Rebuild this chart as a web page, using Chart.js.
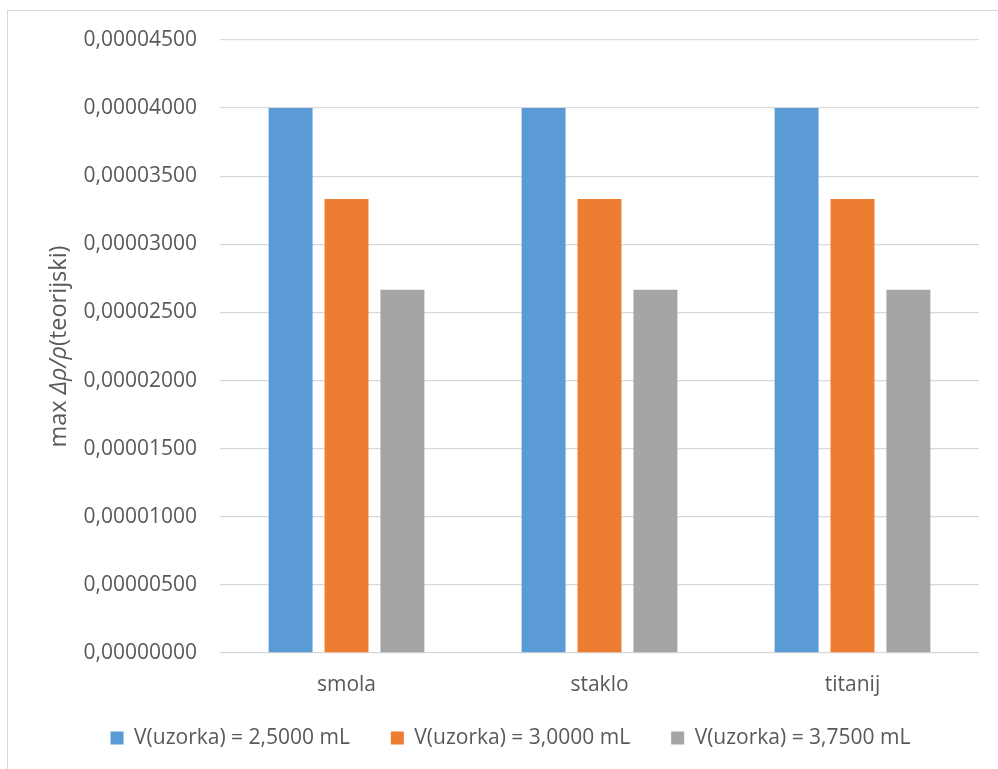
<!DOCTYPE html>
<html>
<head>
<meta charset="utf-8">
<script src="https://cdn.jsdelivr.net/npm/chart.js@4.4.1/dist/chart.umd.min.js"></script>
<style>
  html, body { margin: 0; padding: 0; background: #fff; }
  #wrap { position: relative; width: 998px; height: 769px; }
</style>
</head>
<body>
<div id="wrap"><canvas id="myChart"></canvas></div>
<script>
// kategorije i serije
var categories = ['smola', 'staklo', 'titanij'];
var seriesNames = ['V(uzorka) = 2,5000 mL', 'V(uzorka) = 3,0000 mL', 'V(uzorka) = 3,7500 mL'];
var values1 = [0.00004000, 0.00004000, 0.00004000];
var values2 = [0.00003333, 0.00003333, 0.00003333];
var values3 = [0.00002667, 0.00002667, 0.00002667];
var seriesColors = ['#5B9BD5', '#ED7D31', '#A5A5A5'];

// os y
var yMin = 0;
var yMax = 0.000045;
var yStep = 0.000005;
var yTitleParts = [['max ', false], ['Δρ/ρ', true], ['(teorijski)', false]];

var textColor = '#595959';
var gridColor = '#D9D9D9';
var fontName = "'Open Sans', 'Noto Sans', sans-serif";

Chart.defaults.font.family = fontName;
Chart.defaults.font.size = 21;
Chart.defaults.color = textColor;

// okvir, naslov osi y (dio teksta u kurzivu) i pomak legende
var framePlugin = {
    id: 'framePlugin',
    afterLayout: function(chart) {
        var lg = chart.legend;
        if (!lg) return;
        var shift = lg.top - (738 - 41 - 10.5);
        lg.top -= shift;
        lg.bottom -= shift;
    },
    beforeDraw: function(chart) {
        var ctx = chart.ctx;
        ctx.save();
        ctx.fillStyle = '#fff';
        ctx.fillRect(0, 0, chart.width, chart.height);
        ctx.strokeStyle = gridColor;
        ctx.lineWidth = 1;
        ctx.strokeRect(7.5, 10.5, chart.width + 20, chart.height + 20);
        ctx.restore();
    },
    afterDraw: function(chart) {
        var ctx = chart.ctx;
        var area = chart.chartArea;
        var size = 23.5;
        ctx.save();
        var total = 0;
        yTitleParts.forEach(function(p) {
            ctx.font = (p[1] ? 'italic ' : '') + size + 'px ' + fontName;
            total += ctx.measureText(p[0]).width;
        });
        ctx.translate(59, (area.top + area.bottom) / 2);
        ctx.rotate(-Math.PI / 2);
        ctx.fillStyle = textColor;
        ctx.textBaseline = 'middle';
        ctx.textAlign = 'left';
        var x = -total / 2;
        yTitleParts.forEach(function(p) {
            ctx.font = (p[1] ? 'italic ' : '') + size + 'px ' + fontName;
            ctx.fillText(p[0], x, 0);
            x += ctx.measureText(p[0]).width;
        });
        ctx.restore();
    }
};

var data = {
    labels: categories,
    datasets: [values1, values2, values3].map(function(v, i) {
        return {
            label: seriesNames[i],
            data: v,
            backgroundColor: seriesColors[i],
            borderWidth: 0,
            categoryPercentage: 0.663,
            barPercentage: 0.786
        };
    })
};

var ctx = document.getElementById('myChart').getContext('2d');
window.myBar = new Chart(ctx, {
    type: 'bar',
    data: data,
    plugins: [framePlugin],
    options: {
        responsive: true,
        maintainAspectRatio: false,
        animation: false,
        layout: {
            padding: { left: 42, right: 19, top: 40, bottom: 0 }
        },
        plugins: {
            legend: {
                position: 'bottom',
                labels: {
                    boxWidth: 13,
                    boxHeight: 13,
                    padding: 41,
                    color: textColor
                }
            },
            tooltip: { enabled: false }
        },
        scales: {
            x: {
                grid: { display: false, drawTicks: false },
                border: { display: false },
                ticks: { padding: 19, color: textColor },
                afterFit: function(scale) { scale.height = 44; }
            },
            y: {
                min: yMin,
                max: yMax,
                grid: { color: gridColor, lineWidth: 1.3, drawTicks: false },
                border: { display: false },
                ticks: {
                    stepSize: yStep,
                    padding: 23,
                    color: textColor,
                    callback: function(v) { return v.toFixed(8).replace('.', ','); }
                },
                afterFit: function(scale) { scale.width = 178; }
            }
        }
    }
});
</script>
</body>
</html>
